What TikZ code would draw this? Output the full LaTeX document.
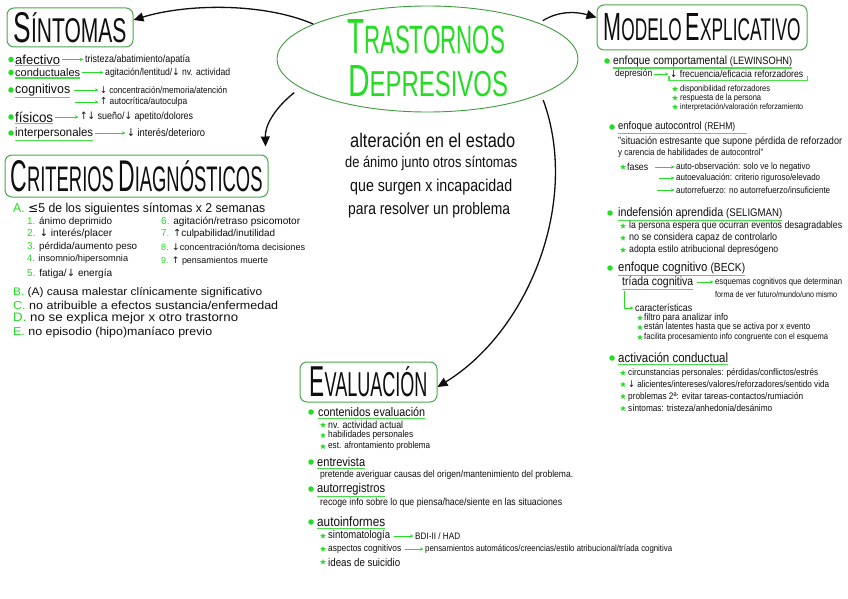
\documentclass[tikz,border=0pt]{standalone}
\usepackage{fontspec}
\usepackage{graphicx}
\setmainfont{Liberation Sans}
\newfontfamily\symf{DejaVu Sans}
\usetikzlibrary{arrows.meta,shapes.geometric}
\definecolor{gb}{RGB}{34,221,34}
\definecolor{gl}{RGB}{70,226,70}
\definecolor{gbox}{RGB}{76,166,76}
\definecolor{gell}{RGB}{62,158,62}
\definecolor{ink}{RGB}{15,15,15}
\newcommand\fw[3][1.15]{\resizebox{#2pt}{!}{\scalebox{1}[#1]{#3}}}
\newcommand\dnar{{\symf ↓}}
\newcommand\upar{{\symf ↑}}
\newcommand\leqs{{\symf ≤}}
\newcommand\gn[1]{\textcolor{gb}{#1}}
\newcommand\ttl[2]{{\fontsize{15}{15}\selectfont #1}{\fontsize{12}{12}\selectfont #2}}
\newcommand\uline[1]{\draw[ul] ([yshift=-1.3pt]#1.south west) -- ([yshift=-1.3pt]#1.south east);}
\begin{document}
\begin{tikzpicture}[x=1pt,y=-1pt,
  t/.style={anchor=west, inner sep=0pt, text=ink, font=\fontsize{10}{12}\selectfont},
  bul/.style={circle, fill=gb, inner sep=0pt, minimum size=5.5pt},
  st/.style={star, star points=5, star point ratio=2.3, fill=gb, inner sep=0pt, minimum size=6pt},
  ul/.style={draw=gl, line width=1.1pt},
  ga/.style={draw=gb, line width=0.9pt, shorten <=1.5pt, shorten >=1.5pt, -{Stealth[length=3.5pt,width=3.2pt]}},
  ba/.style={draw=ink, line width=1.3pt, -{Triangle[length=10pt,width=9pt]}},
  tbox/.style={draw=gbox, line width=1pt, rounded corners=7pt, inner sep=0pt, text=ink},
]
\useasboundingbox (0,0) rectangle (848,599);
\fill[white] (0,0) rectangle (848,599);

% ---------- central ellipse ----------
\node[ellipse, draw=gell, line width=0.9pt, minimum width=301pt, minimum height=106pt, inner sep=0pt] (main) at (427.5,59) {};
\node[inner sep=0pt, text=gb] (tr1) at (426,37) {\resizebox{158pt}{34pt}{\ttl{T}{RASTORNOS}}};
\node[inner sep=0pt, text=gb] (tr2) at (428,81.5) {\resizebox{160pt}{31pt}{\ttl{D}{EPRESIVOS}}};

\node[t] (d1) at (350,140) {\fw[1.2]{165}{alteración en el estado}};
\node[t] (d2) at (345,163) {\fw[1.2]{172}{de ánimo junto otros síntomas}};
\node[t] (d3) at (350,187) {\fw[1.2]{162}{que surgen x incapacidad}};
\node[t] (d4) at (348,210) {\fw[1.2]{162}{para resolver un problema}};

% ---------- title boxes ----------
\node[tbox, minimum width=126pt, minimum height=39pt] (sint) at (70,27.5) {\resizebox{113pt}{30pt}{\ttl{S}{ÍNTOMAS}}};
\node[tbox, minimum width=263pt, minimum height=42pt] (crit) at (136.5,176) {\resizebox{252pt}{31pt}{\ttl{C}{RITERIOS} \ttl{D}{IAGNÓSTICOS}}};
\node[tbox, minimum width=210pt, minimum height=45pt] (model) at (702,27.5) {\resizebox{197pt}{27pt}{\ttl{M}{ODELO} \ttl{E}{XPLICATIVO}}};
\node[tbox, minimum width=137pt, minimum height=40pt] (eval) at (368.5,382) {\resizebox{118pt}{30pt}{\ttl{E}{VALUACIÓN}}};

% ---------- big arrows ----------
\draw[ba] (main.163) .. controls (262,2) and (185,4) .. ([yshift=7.5pt]sint.east);
\draw[ba] ([xshift=-16pt]main.196) .. controls (275,108) and (265,125) .. ([xshift=-3pt,yshift=8pt]crit.north east);
\draw[ba] ([xshift=10pt]main.20) .. controls (560,10) and (578,12) .. ([yshift=10pt]model.west);
\draw[ba] ([xshift=19pt]main.-23) .. controls (580,200) and (530,330) .. ([yshift=-5pt]eval.east);

% ---------- SINTOMAS ----------
\node[bul] (sb1) at (11,59.5) {};
\node[t] (s1) at (15,59.5) {\fw[1]{45}{afectivo}};
\node[t] (s1t) at (85,59.5) {\fw{105}{tristeza/abatimiento/apatía}};
\node[bul] (sb2) at (11,72.5) {};
\node[t] (s2) at (15,72.5) {\fw[1]{65}{conductuales}};
\node[t] (s2t) at (105,72.5) {\fw{125}{agitación/lentitud/\dnar{} nv. actividad}};
\node[bul] (sb3) at (11,90) {};
\node[t] (s3) at (15,90) {\fw[1.05]{55}{cognitivos}};
\node[t] (s3t) at (100,90) {\fw{127}{\dnar{} concentración/memoria/atención}};
\coordinate (s3c) at (73,102);
\node[t] (s3u) at (100,102) {\fw{87}{\upar{} autocrítica/autoculpa}};
\node[bul] (sb4) at (11,117) {};
\node[t] (s4) at (15,117) {\fw[1.05]{38}{físicos}};
\node[t] (s4t) at (80,117) {\fw{113}{\upar\dnar{} sueño/\dnar{} apetito/dolores}};
\node[bul] (sb5) at (11,133) {};
\node[t] (s5) at (15,133) {\fw[1.05]{78}{interpersonales}};
\node[t] (s5t) at (127,133) {\fw{78}{\dnar{} interés/deterioro}};
\uline{s1}\uline{s2}\uline{s3}\uline{s4}\uline{s5}
\draw[ga] (s1.east) -- (s1t.west);
\draw[ga] (s2.east) -- (s2t.west);
\draw[ga] ([xshift=2pt]s3.east) -- (s3t.west);
\draw[ga] (s3c) -- (s3u.west);
\draw[ga] (s4.east) -- (s4t.west);
\draw[ga] (s5.east) -- (s5t.west);

% ---------- CRITERIOS ----------
\node[t] (ca) at (13,209) {\fw[1.05]{252}{\gn{A.} \leqs5 de los siguientes síntomas x 2 semanas}};
\node[t] (c1) at (27,222) {\fw[1]{85}{\gn{1.} ánimo deprimido}};
\node[t] (c2) at (27,234) {\fw[1]{85}{\gn{2.} \dnar{} interés/placer}};
\node[t] (c3) at (27,247) {\fw[1]{110}{\gn{3.} pérdida/aumento peso}};
\node[t] (c4) at (27,259) {\fw[1]{101}{\gn{4.} insomnio/hipersomnia}};
\node[t] (c5) at (27,274) {\fw[1]{85}{\gn{5.} fatiga/\dnar{} energía}};
\node[t] (c6) at (161,222) {\fw[1]{139}{\gn{6.} agitación/retraso psicomotor}};
\node[t] (c7) at (161,234) {\fw[1]{114}{\gn{7.} \upar culpabilidad/inutilidad}};
\node[t] (c8) at (161,247) {\fw[1]{144}{\gn{8.} \dnar concentración/toma decisiones}};
\node[t] (c9) at (161,261) {\fw[1]{107}{\gn{9.} \upar{} pensamientos muerte}};
\node[t] (cb) at (13,292.5) {\fw[0.92]{249}{\gn{B.} (A) causa malestar clínicamente significativo}};
\node[t] (cc) at (13,305.5) {\fw[0.92]{265}{\gn{C.} no atribuible a efectos sustancia/enfermedad}};
\node[t] (cd) at (13,318.5) {\fw[0.92]{225}{\gn{D.} no se explica mejor x otro trastorno}};
\node[t] (ce) at (13,332) {\fw[0.92]{199}{\gn{E.} no episodio (hipo)maníaco previo}};

% ---------- MODELO EXPLICATIVO ----------
\node[bul] (mb1) at (607,61) {};
\node[t] (m1) at (613,61) {\fw{179}{enfoque comportamental {\small (LEWINSOHN)}}};
\uline{m1}
\node[t] (m1a) at (615,74) {\fw{37}{depresión}};
\node[t] (m1b) at (670,74) {\fw{133}{\dnar{} frecuencia/eficacia reforzadores}};
\draw[ga] (m1a.east) -- (m1b.west);
\draw[ul] ([xshift=-1pt,yshift=2pt]m1b.south west) -- ([xshift=-1pt,yshift=-2.5pt]m1b.south west) -- ([xshift=4pt,yshift=-2.5pt]m1b.south east) -- ([xshift=4pt,yshift=2pt]m1b.south east);
\node[st] (ms1) at (675,89) {};
\node[t] (m1c) at (680,89) {\fw{90}{disponibilidad reforzadores}};
\node[st] (ms2) at (675,98) {};
\node[t] (m1d) at (680,98) {\fw{81}{respuesta de la persona}};
\node[st] (ms3) at (675,107) {};
\node[t] (m1e) at (680,107) {\fw{123}{interpretación/valoración reforzamiento}};

\node[bul] (mb2) at (612,127) {};
\node[t] (m2) at (618,127) {\fw{117}{enfoque autocontrol {\small (REHM)}}};
\draw[ul] ([yshift=-1.3pt]m2.south west) -- ([xshift=12pt,yshift=-1.3pt]m2.south east);
\node[t] (m2q1) at (618,142) {\fw{224}{"situación estresante que supone pérdida de reforzador}};
\node[t] (m2q2) at (618,153) {\fw{145}{y carencia de habilidades de autocontrol"}};
\node[st] (ms4) at (623,167) {};
\node[t] (m2f) at (627,167) {\fw{21}{fases}};
\node[t] (m2f1) at (676,167) {\fw{134}{auto-observación: solo ve lo negativo}};
\coordinate (m2c2) at (657,178);
\node[t] (m2f2) at (676,178) {\fw{144}{autoevaluación: criterio riguroso/elevado}};
\coordinate (m2c3) at (655,190);
\node[t] (m2f3) at (676,190) {\fw{154}{autorrefuerzo: no autorrefuerzo/insuficiente}};
\draw[ga] ([xshift=5pt]m2f.east) -- (m2f1.west);
\draw[ga] (m2c2) -- (m2f2.west);
\draw[ga] (m2c3) -- (m2f3.west);

\node[bul] (mb3) at (610,213) {};
\node[t] (m3) at (618,213) {\fw{164}{indefensión aprendida {\small (SELIGMAN)}}};
\uline{m3}
\node[st] (ms5) at (623,226) {};
\node[t] (m3a) at (629,226) {\fw{213}{la persona espera que ocurran eventos desagradables}};
\node[st] (ms6) at (623,238) {};
\node[t] (m3b) at (629,238) {\fw{148}{no se considera capaz de controlarlo}};
\node[st] (ms7) at (623,250) {};
\node[t] (m3c) at (629,250) {\fw{149}{adopta estilo atribucional depresógeno}};

\node[bul] (mb4) at (610,268) {};
\node[t] (m4) at (618,268) {\fw{127}{enfoque cognitivo {\small (BECK)}}};
\uline{m4}
\node[t] (m4t) at (622,282) {\fw{71}{tríada cognitiva}};
\uline{m4t}
\node[t] (m4e1) at (715,282) {\fw{127}{esquemas cognitivos que determinan}};
\node[t] (m4e2) at (715,295) {\fw{122}{forma de ver futuro/mundo/uno mismo}};
\draw[ga] ([xshift=2pt]m4t.east) -- (m4e1.west);
\node[t] (m4c) at (635,308) {\fw{57}{características}};
\draw[ga, shorten <=3pt] ([xshift=2pt]m4t.south west) |- (m4c.west);
\node[st] (ms8) at (640,318) {};
\node[t] (m4a) at (644,318) {\fw{84}{filtro para analizar info}};
\node[st] (ms9) at (640,327.5) {};
\node[t] (m4b) at (644,327.5) {\fw{166}{están latentes hasta que se activa por x evento}};
\node[st] (ms10) at (640,337.5) {};
\node[t] (m4d) at (644,337.5) {\fw{184}{facilita procesamiento info congruente con el esquema}};

\node[bul] (mb5) at (612,358) {};
\node[t] (m5) at (618,358) {\fw{110}{activación conductual}};
\uline{m5}
\node[st] (ms11) at (623,373) {};
\node[t] (m5a) at (628,373) {\fw{190}{circunstancias personales: pérdidas/conflictos/estrés}};
\node[st] (ms12) at (623,384.5) {};
\node[t] (m5b) at (628,384.5) {\fw{201}{\dnar{} alicientes/intereses/valores/reforzadores/sentido vida}};
\node[st] (ms13) at (623,396.5) {};
\node[t] (m5c) at (628,396.5) {\fw{175}{problemas 2ª: evitar tareas-contactos/rumiación}};
\node[st] (ms14) at (623,408.5) {};
\node[t] (m5d) at (628,408.5) {\fw{144}{síntomas: tristeza/anhedonia/desánimo}};

% ---------- EVALUACION ----------
\node[bul] (eb1) at (311,412) {};
\node[t] (e1) at (318,412) {\fw{107}{contenidos evaluación}};
\uline{e1}
\node[st] (es1) at (323,425) {};
\node[t] (e1a) at (328,425) {\fw{75}{nv. actividad actual}};
\node[st] (es2) at (323,435.5) {};
\node[t] (e1b) at (328,435.5) {\fw{85}{habilidades personales}};
\node[st] (es3) at (323,446.5) {};
\node[t] (e1c) at (328,446.5) {\fw{102}{est. afrontamiento problema}};

\node[bul] (eb2) at (311,462) {};
\node[t] (e2) at (317,462) {\fw{48}{entrevista}};
\uline{e2}
\node[t] (e2a) at (320,474.5) {\fw{253}{pretende averiguar causas del origen/mantenimiento del problema.}};

\node[bul] (eb3) at (311,489) {};
\node[t] (e3) at (317,489) {\fw{68}{autorregistros}};
\uline{e3}
\node[t] (e3a) at (320,503) {\fw{242}{recoge info sobre lo que piensa/hace/siente en las situaciones}};

\node[bul] (eb4) at (311,522) {};
\node[t] (e4) at (317,522) {\fw{68}{autoinformes}};
\uline{e4}
\node[st] (es4) at (323,536) {};
\node[t] (e4a) at (328,536) {\fw{62}{sintomatología}};
\node[t] (e4a2) at (415,536) {\fw{45}{BDI-II / HAD}};
\draw[ga] ([xshift=2pt]e4a.east) -- (e4a2.west);
\node[st] (es5) at (323,549) {};
\node[t] (e4b) at (328,549) {\fw{73}{aspectos cognitivos}};
\node[t] (e4b2) at (425,549) {\fw{247}{pensamientos automáticos/creencias/estilo atribucional/tríada cognitiva}};
\draw[ga] ([xshift=2pt]e4b.east) -- (e4b2.west);
\node[st] (es6) at (323,562) {};
\node[t] (e4c) at (328,562) {\fw{72}{ideas de suicidio}};
\end{tikzpicture}
\end{document}
